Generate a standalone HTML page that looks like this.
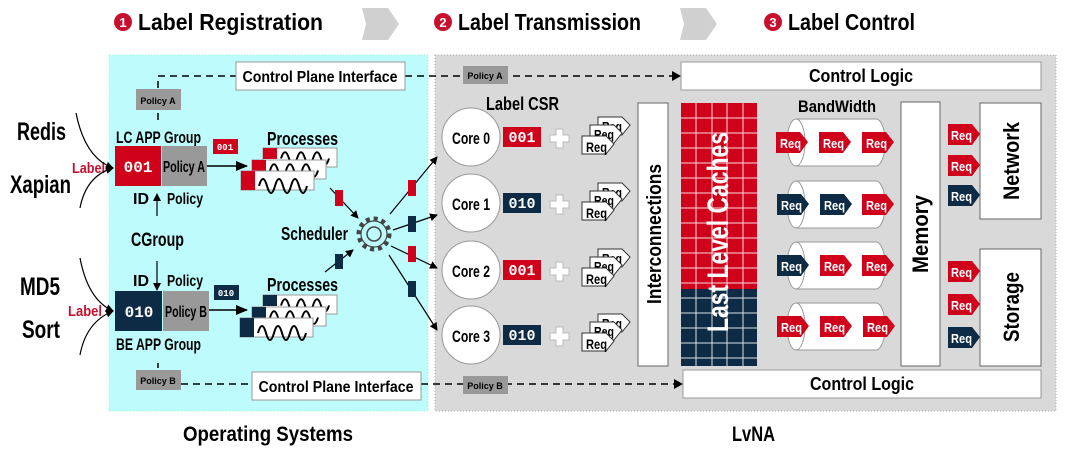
<!DOCTYPE html>
<html><head><meta charset="utf-8"><style>
html,body{margin:0;padding:0;background:#fff;width:1080px;height:458px;overflow:hidden}
svg{display:block}
text{font-family:"Liberation Sans Narrow","Liberation Sans",sans-serif;font-weight:bold}
.m{font-family:"Liberation Mono",monospace;font-weight:bold}
</style></head><body>
<svg width="1080" height="458" viewBox="0 0 1080 458" xmlns="http://www.w3.org/2000/svg">
<defs>
<marker id="ah" markerWidth="8" markerHeight="8" refX="7" refY="4" orient="auto" markerUnits="userSpaceOnUse"><path d="M0,0 L8,4 L0,8 z" fill="#000"/></marker>
<marker id="ah2" markerWidth="12" markerHeight="10" refX="11" refY="5" orient="auto" markerUnits="userSpaceOnUse"><path d="M0,0 L12,5 L0,10 z" fill="#000"/></marker>
<g id="wave"><path d="M4,15 q4,-14 8,0 q4,14 8,0 q4,-14 8,0 q4,14 8,0 q4,-14 8,0 q4,14 8,0" fill="none" stroke="#000" stroke-width="2"/></g>
<g id="wreq"><path d="M0,4 L24,4 L32,12 L24,22 L0,22 z" fill="#fff" stroke="#333" stroke-width="1"/></g>
<g id="rq"><path d="M0,0 L24,0 L32,10 L24,21 L0,21 z"/></g>
</defs>

<!-- header -->
<circle cx="123" cy="22" r="9" fill="#c8102e"/><text x="123" y="27" font-size="13" fill="#fff" text-anchor="middle">1</text>
<text x="138" y="30" font-size="23" textLength="185" lengthAdjust="spacingAndGlyphs">Label Registration</text>
<path d="M362,8 L388,8 L399,24 L388,40 L362,40 L366,24 z" fill="#d0d0d0"/>
<circle cx="443" cy="22" r="9" fill="#c8102e"/><text x="443" y="27" font-size="13" fill="#fff" text-anchor="middle">2</text>
<text x="458" y="30" font-size="23" textLength="183" lengthAdjust="spacingAndGlyphs">Label Transmission</text>
<path d="M680,8 L706,8 L717,24 L706,40 L680,40 L684,24 z" fill="#d0d0d0"/>
<circle cx="773" cy="22" r="9" fill="#c8102e"/><text x="773" y="27" font-size="13" fill="#fff" text-anchor="middle">3</text>
<text x="788" y="30" font-size="23" textLength="127" lengthAdjust="spacingAndGlyphs">Label Control</text>

<!-- panels -->
<rect x="109" y="55" width="319" height="356" fill="#bdfbfd" stroke="#8fb" stroke-width="1" stroke-dasharray="1,2"/>
<rect x="435" y="55" width="621" height="356" fill="#d9d9d9" stroke="#aaa" stroke-width="1" stroke-dasharray="1,2"/>
<text x="183" y="441" font-size="21" textLength="170" lengthAdjust="spacingAndGlyphs">Operating Systems</text>
<text x="732" y="441" font-size="21" textLength="43" lengthAdjust="spacingAndGlyphs">LvNA</text>

<!-- apps -->
<text x="17" y="140" font-size="25" textLength="49" lengthAdjust="spacingAndGlyphs">Redis</text>
<text x="10" y="193" font-size="25" textLength="61" lengthAdjust="spacingAndGlyphs">Xapian</text>
<text x="20" y="295" font-size="25" textLength="40" lengthAdjust="spacingAndGlyphs">MD5</text>
<text x="22" y="338" font-size="25" textLength="38" lengthAdjust="spacingAndGlyphs">Sort</text>
<text x="72" y="173" font-size="15" fill="#c8102e" textLength="33" lengthAdjust="spacingAndGlyphs">Label</text>
<text x="68" y="316" font-size="15" fill="#c8102e" textLength="34" lengthAdjust="spacingAndGlyphs">Label</text>
<g fill="none" stroke="#000" stroke-width="1.2" marker-end="url(#ah)">
<path d="M76,113 Q85,158 113,168"/><path d="M80,208 Q86,176 113,168"/>
<path d="M80,258 Q88,300 113,311"/><path d="M80,355 Q86,322 113,311"/>
</g>

<!-- control plane -->
<g stroke="#000" stroke-width="1.5" stroke-dasharray="7,5" fill="none">
<path d="M158,88 L158,76 L236,76"/><path d="M405,76 L672,76"/>
<path d="M158,113 L158,122"/>
<path d="M158,368 L158,363"/>
<path d="M181,384 L252,384"/><path d="M421,384 L674,384"/>
</g>
<path d="M672,71 L681,76 L672,81 z"/><path d="M674,379 L683,384 L674,389 z"/>
<rect x="236" y="62" width="169" height="28" fill="#fff" stroke="#999"/>
<text x="320" y="82" font-size="16" text-anchor="middle" textLength="155" lengthAdjust="spacingAndGlyphs">Control Plane Interface</text>
<rect x="252" y="372" width="169" height="28" fill="#fff" stroke="#999"/>
<text x="336" y="392" font-size="16" text-anchor="middle" textLength="155" lengthAdjust="spacingAndGlyphs">Control Plane Interface</text>
<rect x="136" y="89" width="45" height="21" fill="#999"/><text x="158" y="104" font-size="9" text-anchor="middle">Policy A</text>
<rect x="136" y="370" width="45" height="20" fill="#999"/><text x="158" y="384" font-size="9" text-anchor="middle">Policy B</text>
<rect x="463" y="66" width="45" height="18" fill="#999"/><text x="485" y="79" font-size="9" text-anchor="middle">Policy A</text>
<rect x="463" y="376" width="45" height="18" fill="#999"/><text x="485" y="389" font-size="9" text-anchor="middle">Policy B</text>

<!-- groups -->
<text x="116" y="143" font-size="17" textLength="85" lengthAdjust="spacingAndGlyphs">LC APP Group</text>
<rect x="115" y="146" width="46" height="40" fill="#d0021b"/>
<text x="138" y="172" class="m" font-size="16" fill="#fff" text-anchor="middle">001</text>
<rect x="162" y="146" width="45" height="40" fill="#999"/>
<text x="184" y="172" font-size="16" text-anchor="middle" textLength="42" lengthAdjust="spacingAndGlyphs">Policy A</text>
<text x="133" y="204" font-size="16">ID</text><text x="167" y="204" font-size="16" textLength="36" lengthAdjust="spacingAndGlyphs">Policy</text>
<line x1="157" y1="216" x2="157" y2="194" stroke="#000" stroke-width="1.2" marker-end="url(#ah)"/>
<text x="131" y="246" font-size="19" textLength="53" lengthAdjust="spacingAndGlyphs">CGroup</text>
<text x="133" y="286" font-size="16">ID</text><text x="167" y="286" font-size="16" textLength="36" lengthAdjust="spacingAndGlyphs">Policy</text>
<line x1="157" y1="261" x2="157" y2="290" stroke="#000" stroke-width="1.2" marker-end="url(#ah)"/>
<rect x="115" y="291" width="47" height="40" fill="#0d2b45"/>
<text x="139" y="317" class="m" font-size="16" fill="#fff" text-anchor="middle">010</text>
<rect x="163" y="291" width="46" height="40" fill="#999"/>
<text x="186" y="317" font-size="16" text-anchor="middle" textLength="42" lengthAdjust="spacingAndGlyphs">Policy B</text>
<text x="116" y="350" font-size="17" textLength="85" lengthAdjust="spacingAndGlyphs">BE APP Group</text>

<!-- processes -->
<rect x="213" y="139" width="25" height="15" fill="#d0021b"/><text x="225" y="150" class="m" font-size="9" fill="#fff" text-anchor="middle">001</text>
<line x1="207" y1="166" x2="247" y2="166" stroke="#000" stroke-width="1.5" marker-end="url(#ah2)"/>
<text x="267" y="145" font-size="18" textLength="71" lengthAdjust="spacingAndGlyphs">Processes</text>
<g transform="translate(263,148)"><rect width="74" height="19" fill="#fff" stroke="#999"/><rect width="14" height="11" fill="#d0021b"/><use href="#wave" transform="translate(14,-3) scale(1,0.9)"/></g>
<g transform="translate(252,160)"><rect width="74" height="19" fill="#fff" stroke="#999"/><rect width="14" height="11" fill="#d0021b"/><use href="#wave" transform="translate(14,-3) scale(1,0.9)"/></g>
<g transform="translate(241,171)"><rect width="73" height="19" fill="#fff" stroke="#999"/><rect width="14" height="19" fill="#d0021b"/><use href="#wave" transform="translate(14,0)"/></g>

<rect x="214" y="285" width="25" height="15" fill="#0d2b45"/><text x="226" y="296" class="m" font-size="9" fill="#fff" text-anchor="middle">010</text>
<line x1="209" y1="310" x2="247" y2="310" stroke="#000" stroke-width="1.5" marker-end="url(#ah2)"/>
<text x="267" y="291" font-size="18" textLength="71" lengthAdjust="spacingAndGlyphs">Processes</text>
<g transform="translate(263,295)"><rect width="74" height="19" fill="#fff" stroke="#999"/><rect width="14" height="11" fill="#0d2b45"/><use href="#wave" transform="translate(14,-3) scale(1,0.9)"/></g>
<g transform="translate(252,307)"><rect width="74" height="19" fill="#fff" stroke="#999"/><rect width="14" height="11" fill="#0d2b45"/><use href="#wave" transform="translate(14,-3) scale(1,0.9)"/></g>
<g transform="translate(240,318)"><rect width="73" height="19" fill="#fff" stroke="#999"/><rect width="14" height="19" fill="#0d2b45"/><use href="#wave" transform="translate(14,0)"/></g>

<!-- scheduler -->
<text x="281" y="240" font-size="18" textLength="67" lengthAdjust="spacingAndGlyphs">Scheduler</text>
<circle cx="374" cy="234" r="15" fill="none" stroke="#444" stroke-width="5" stroke-dasharray="4,3.8"/>
<circle cx="374" cy="234" r="13" fill="#bdfbfd" stroke="#444" stroke-width="1.2"/>
<circle cx="374" cy="234" r="7" fill="none" stroke="#444" stroke-width="1.5"/>
<g stroke="#000" stroke-width="1.2" marker-end="url(#ah)">
<line x1="330" y1="188" x2="358" y2="218"/><line x1="325" y1="272" x2="353" y2="250"/>
<line x1="390" y1="214" x2="437" y2="157"/><line x1="393" y1="230" x2="437" y2="215"/>
<line x1="391" y1="246" x2="437" y2="268"/><line x1="389" y1="255" x2="437" y2="330"/>
</g>
<rect x="335" y="190" width="8" height="16" fill="#d0021b"/><rect x="335" y="254" width="8" height="15" fill="#0d2b45"/>
<rect x="408" y="180" width="8" height="16" fill="#d0021b"/><rect x="408" y="216" width="8" height="16" fill="#0d2b45"/>
<rect x="408" y="246" width="8" height="16" fill="#d0021b"/><rect x="408" y="281" width="8" height="16" fill="#0d2b45"/>

<!-- cores -->
<text x="486" y="110" font-size="18" textLength="73" lengthAdjust="spacingAndGlyphs">Label CSR</text>
<circle cx="471" cy="137" r="29" fill="#fff" stroke="#999"/>
<circle cx="471" cy="203" r="29" fill="#fff" stroke="#999"/>
<circle cx="471" cy="270" r="29" fill="#fff" stroke="#999"/>
<circle cx="471" cy="335" r="29" fill="#fff" stroke="#999"/>
<text x="471" y="144" font-size="17" text-anchor="middle" textLength="38" lengthAdjust="spacingAndGlyphs">Core 0</text>
<text x="471" y="210" font-size="17" text-anchor="middle" textLength="38" lengthAdjust="spacingAndGlyphs">Core 1</text>
<text x="471" y="277" font-size="17" text-anchor="middle" textLength="38" lengthAdjust="spacingAndGlyphs">Core 2</text>
<text x="471" y="342" font-size="17" text-anchor="middle" textLength="38" lengthAdjust="spacingAndGlyphs">Core 3</text>
<rect x="503" y="127" width="38" height="20" fill="#d0021b"/><text x="522" y="142" class="m" font-size="15" fill="#fff" text-anchor="middle">001</text>
<rect x="503" y="193" width="38" height="20" fill="#0d2b45"/><text x="522" y="208" class="m" font-size="15" fill="#fff" text-anchor="middle">010</text>
<rect x="503" y="260" width="38" height="20" fill="#d0021b"/><text x="522" y="275" class="m" font-size="15" fill="#fff" text-anchor="middle">001</text>
<rect x="503" y="325" width="38" height="20" fill="#0d2b45"/><text x="522" y="340" class="m" font-size="15" fill="#fff" text-anchor="middle">010</text>
<g fill="#fff" stroke="#bbb" stroke-width="1">
<path d="M556,129 h7 v6 h6 v7 h-6 v6 h-7 v-6 h-6 v-7 h6 z"/>
<path d="M556,195 h7 v6 h6 v7 h-6 v6 h-7 v-6 h-6 v-7 h6 z"/>
<path d="M556,262 h7 v6 h6 v7 h-6 v6 h-7 v-6 h-6 v-7 h6 z"/>
<path d="M556,327 h7 v6 h6 v7 h-6 v6 h-7 v-6 h-6 v-7 h6 z"/>
</g>
<g id="rs">
<use href="#wreq" transform="translate(598,113)"/><text x="602" y="131" font-size="13" textLength="20" lengthAdjust="spacingAndGlyphs">Req</text>
<use href="#wreq" transform="translate(590,121)"/><text x="594" y="139" font-size="13" textLength="20" lengthAdjust="spacingAndGlyphs">Req</text>
<use href="#wreq" transform="translate(582,132)"/><text x="586" y="152" font-size="14" textLength="21" lengthAdjust="spacingAndGlyphs">Req</text>
</g>
<use href="#rs" transform="translate(0,66)"/>
<use href="#rs" transform="translate(0,132)"/>
<use href="#rs" transform="translate(0,197)"/>

<!-- interconnections -->
<rect x="638" y="103" width="30" height="263" fill="#fff" stroke="#666"/>
<text transform="translate(661,234) rotate(-90)" font-size="20" text-anchor="middle" textLength="140" lengthAdjust="spacingAndGlyphs">Interconnections</text>

<!-- LLC -->
<rect x="681" y="103" width="76" height="186" fill="#d0021b"/>
<rect x="681" y="289" width="76" height="77" fill="#0d2b45"/>
<g stroke="#fff" stroke-width="1" opacity="0.85">
<line x1="696" y1="103" x2="696" y2="366"/><line x1="712" y1="103" x2="712" y2="366"/><line x1="727" y1="103" x2="727" y2="366"/><line x1="743" y1="103" x2="743" y2="366"/>
<path d="M681,118h76M681,133h76M681,148h76M681,163h76M681,178h76M681,193h76M681,208h76M681,223h76M681,238h76M681,253h76M681,268h76M681,283h76M681,298h76M681,313h76M681,328h76M681,343h76M681,358h76"/>
</g>
<text transform="translate(728,232) rotate(-90)" font-size="30" fill="#fff" text-anchor="middle" textLength="200" lengthAdjust="spacingAndGlyphs">Last Level Caches</text>

<!-- control logic -->
<rect x="681" y="62" width="360" height="28" fill="#fff" stroke="#999"/>
<text x="861" y="82" font-size="18" text-anchor="middle" textLength="104" lengthAdjust="spacingAndGlyphs">Control Logic</text>
<rect x="683" y="370" width="358" height="28" fill="#fff" stroke="#999"/>
<text x="862" y="390" font-size="18" text-anchor="middle" textLength="104" lengthAdjust="spacingAndGlyphs">Control Logic</text>

<!-- bandwidth -->
<text x="798" y="112" font-size="17" textLength="78" lengthAdjust="spacingAndGlyphs">BandWidth</text>
<g id="cyl">
<path d="M796,119 L876,119 A9,23 0 0 1 876,166 L796,166" fill="#fff" stroke="#999"/>
<ellipse cx="796" cy="142.5" rx="9" ry="23.5" fill="#fff" stroke="#999"/>
</g>
<use href="#cyl" transform="translate(0,62)"/>
<use href="#cyl" transform="translate(0,123)"/>
<use href="#cyl" transform="translate(0,184)"/>
<g font-size="13" fill="#fff">
<use href="#rq" fill="#d0021b" transform="translate(776,132)"/><use href="#rq" fill="#d0021b" transform="translate(819,132)"/><use href="#rq" fill="#d0021b" transform="translate(862,132)"/>
<use href="#rq" fill="#0d2b45" transform="translate(777,194)"/><use href="#rq" fill="#0d2b45" transform="translate(820,194)"/><use href="#rq" fill="#d0021b" transform="translate(862,194)"/>
<use href="#rq" fill="#0d2b45" transform="translate(777,255)"/><use href="#rq" fill="#d0021b" transform="translate(820,255)"/><use href="#rq" fill="#d0021b" transform="translate(862,255)"/>
<use href="#rq" fill="#d0021b" transform="translate(777,316)"/><use href="#rq" fill="#d0021b" transform="translate(820,316)"/><use href="#rq" fill="#d0021b" transform="translate(863,316)"/>
<text x="780" y="148" textLength="21" lengthAdjust="spacingAndGlyphs">Req</text><text x="823" y="148" textLength="21" lengthAdjust="spacingAndGlyphs">Req</text><text x="866" y="148" textLength="21" lengthAdjust="spacingAndGlyphs">Req</text>
<text x="781" y="210" textLength="21" lengthAdjust="spacingAndGlyphs">Req</text><text x="824" y="210" textLength="21" lengthAdjust="spacingAndGlyphs">Req</text><text x="866" y="210" textLength="21" lengthAdjust="spacingAndGlyphs">Req</text>
<text x="781" y="271" textLength="21" lengthAdjust="spacingAndGlyphs">Req</text><text x="824" y="271" textLength="21" lengthAdjust="spacingAndGlyphs">Req</text><text x="866" y="271" textLength="21" lengthAdjust="spacingAndGlyphs">Req</text>
<text x="781" y="332" textLength="21" lengthAdjust="spacingAndGlyphs">Req</text><text x="824" y="332" textLength="21" lengthAdjust="spacingAndGlyphs">Req</text><text x="867" y="332" textLength="21" lengthAdjust="spacingAndGlyphs">Req</text>
</g>

<!-- memory -->
<rect x="901" y="102" width="39" height="264" fill="#fff" stroke="#666"/>
<text transform="translate(928,234) rotate(-90)" font-size="22" text-anchor="middle" textLength="78" lengthAdjust="spacingAndGlyphs">Memory</text>

<!-- network / storage -->
<rect x="980" y="103" width="61" height="116" fill="#fff" stroke="#666"/>
<text transform="translate(1019,161) rotate(-90)" font-size="22" text-anchor="middle" textLength="78" lengthAdjust="spacingAndGlyphs">Network</text>
<rect x="980" y="249" width="61" height="117" fill="#fff" stroke="#666"/>
<text transform="translate(1019,307) rotate(-90)" font-size="22" text-anchor="middle" textLength="70" lengthAdjust="spacingAndGlyphs">Storage</text>
<g font-size="13" fill="#fff">
<use href="#rq" fill="#d0021b" transform="translate(948,124)"/><use href="#rq" fill="#d0021b" transform="translate(948,155)"/><use href="#rq" fill="#0d2b45" transform="translate(948,185)"/>
<use href="#rq" fill="#d0021b" transform="translate(948,261)"/><use href="#rq" fill="#d0021b" transform="translate(948,294)"/><use href="#rq" fill="#0d2b45" transform="translate(948,327)"/>
<text x="951" y="140" textLength="21" lengthAdjust="spacingAndGlyphs">Req</text><text x="951" y="171" textLength="21" lengthAdjust="spacingAndGlyphs">Req</text><text x="951" y="201" textLength="21" lengthAdjust="spacingAndGlyphs">Req</text>
<text x="951" y="277" textLength="21" lengthAdjust="spacingAndGlyphs">Req</text><text x="951" y="310" textLength="21" lengthAdjust="spacingAndGlyphs">Req</text><text x="951" y="343" textLength="21" lengthAdjust="spacingAndGlyphs">Req</text>
</g>
</svg>
</body></html>
